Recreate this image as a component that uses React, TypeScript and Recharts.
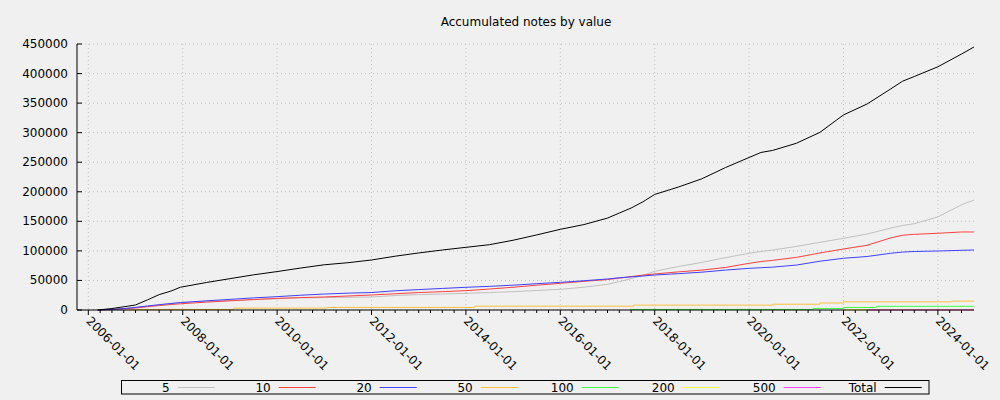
import React from 'react';
import { LineChart, Line, XAxis, YAxis, CartesianGrid, Customized } from 'recharts';

const FONT = "'DejaVu Sans', Verdana, sans-serif";

// ---- data (decimal years) ----
const bigYears = [2006.2, 2006.5, 2006.8, 2007.0, 2007.25, 2007.5, 2007.75, 2007.95, 2008.5, 2009.0, 2009.5, 2010.0, 2010.5, 2011.0, 2011.5, 2012.0, 2012.5, 2013.0, 2013.5, 2014.0, 2014.5, 2015.0, 2015.5, 2016.0, 2016.5, 2017.0, 2017.25, 2017.5, 2017.75, 2018.0, 2018.5, 2019.0, 2019.5, 2020.0, 2020.25, 2020.5, 2021.0, 2021.5, 2022.0, 2022.5, 2023.0, 2023.25, 2023.5, 2024.0, 2024.5, 2024.765];
const totalVals = [0, 2500, 6000, 8500, 17000, 26000, 32000, 38500, 46500, 53000, 59500, 65000, 71000, 76500, 80000, 84600, 91000, 96500, 101500, 106000, 110500, 118000, 127000, 136500, 144500, 155500, 164000, 172500, 183000, 195500, 208000, 222000, 241000, 258000, 266500, 270000, 282000, 300500, 330000, 348500, 374000, 387000, 395000, 411500, 433000, 445000];
const v20Vals = [0, 1000, 2800, 4500, 6800, 9000, 11000, 12500, 15500, 18000, 20500, 22600, 25000, 27000, 28500, 29500, 32500, 34500, 36500, 38400, 40000, 42000, 44500, 46800, 49500, 52500, 54500, 56000, 57500, 59200, 61500, 64000, 67500, 70500, 71500, 72500, 76000, 82500, 87500, 90500, 96000, 98000, 99000, 99800, 101000, 101500];
const v10Vals = [0, 700, 2200, 3500, 5600, 7500, 9300, 10500, 13300, 15500, 17700, 19700, 21000, 22000, 23700, 25400, 27500, 29500, 31000, 32700, 35500, 38500, 42000, 45100, 48500, 51500, 54000, 56500, 59000, 61000, 64500, 67500, 72000, 79000, 82000, 84000, 89000, 96500, 103200, 109500, 122000, 126500, 128000, 129800, 132000, 132000];
const v5Vals = [0, 600, 2000, 3500, 6000, 8500, 11000, 13000, 14500, 16000, 17500, 19000, 20500, 21000, 21500, 22000, 24500, 26000, 27000, 28200, 29500, 31000, 33000, 35000, 38500, 43500, 48000, 53000, 58500, 65500, 73500, 80500, 88500, 96000, 99000, 101500, 107500, 114500, 121300, 128500, 138500, 143000, 146000, 157500, 178000, 186000];

const v50Years = [2006.8, 2007.0, 2009.08, 2011.06, 2014.19, 2017.55, 2020.5, 2021.5, 2022.0, 2024.29, 2024.765];
const v50Vals = [300, 1000, 3200, 4400, 6500, 8200, 9800, 11800, 13800, 15000, 15000];
const v100Years = [2017.48, 2021.36, 2022.0, 2022.7, 2024.765];
const v100Vals = [1000, 2600, 4300, 6200, 6200];
const v200Years = [2022.0, 2024.765];
const v200Vals = [400, 500];
const v500Years = [2022.5, 2024.765];
const v500Vals = [100, 100];

const seriesNames = ['5', '10', '20', '50', '100', '200', '500', 'Total'];
const seriesColors = ['#c0c0c0', '#ff4040', '#4040ff', '#ffc040', '#40ff40', '#ffff40', '#ff40ff', '#000000'];

const yTicks = [0, 50000, 100000, 150000, 200000, 250000, 300000, 350000, 400000, 450000];
const majorYears = [2006, 2008, 2010, 2012, 2014, 2016, 2018, 2020, 2022, 2024];
const xTickLabels = ['2006-01-01', '2008-01-01', '2010-01-01', '2012-01-01', '2014-01-01', '2016-01-01', '2018-01-01', '2020-01-01', '2022-01-01', '2024-01-01'];
const xDomain = [2005.76, 2024.765];
const title = 'Accumulated notes by value';

// quarterly tick positions (axis configuration)
const xTicks: number[] = [];
for (let y = 2006; y <= 2024.5; y += 0.25) xTicks.push(y);

const bigData = bigYears.map((x, i) => ({ x, v5: v5Vals[i], v10: v10Vals[i], v20: v20Vals[i], total: totalVals[i] }));
const mk = (ys: number[], vs: number[]) => ys.map((x, i) => ({ x, v: vs[i] }));
const d50 = mk(v50Years, v50Vals);
const d100 = mk(v100Years, v100Vals);
const d200 = mk(v200Years, v200Vals);
const d500 = mk(v500Years, v500Vals);

const XTick = (props: any) => {
  const { x, y, payload } = props;
  const v = payload.value;
  const idx = majorYears.findIndex((m) => Math.abs(m - v) < 1e-6);
  const major = idx >= 0;
  return (
    <g>
      <line x1={x} x2={x} y1={y} y2={y + (major ? 5 : 3)} stroke="#000" strokeWidth={1} />
      {major && (
        <text
          x={x}
          y={y + 9}
          transform={`rotate(45 ${x} ${y + 9})`}
          textAnchor="start"
          dominantBaseline="central"
          fontSize={12}
          fontFamily={FONT}
          fill="#000"
        >
          {xTickLabels[idx]}
        </text>
      )}
    </g>
  );
};

const YTickLeft = (props: any) => {
  const { x, y, payload } = props;
  return (
    <g>
      <line x1={x} x2={x + 5} y1={y} y2={y} stroke="#000" strokeWidth={1} />
      <text x={x - 9} y={y} textAnchor="end" dominantBaseline="central" fontSize={12} fontFamily={FONT} fill="#000">
        {String(payload.value)}
      </text>
    </g>
  );
};

const YTickRight = (props: any) => {
  const { x, y } = props;
  return <line x1={x} x2={x - 5} y1={y} y2={y} stroke="#000" strokeWidth={1} />;
};

const Extras = () => {
  const startX = 177.7;
  const step = 101;
  return (
    <g>
      <text x={526} y={26} textAnchor="middle" fontSize={12} fontFamily={FONT} fill="#000">
        {title}
      </text>
      <rect x={121.5} y={380.5} width={807.5} height={13.5} fill="none" stroke="#000" strokeWidth={1} />
      {seriesNames.map((n, i) => {
        const lx = startX + step * i;
        return (
          <g key={n}>
            <text x={lx - 8} y={392} textAnchor="end" fontSize={12} fontFamily={FONT} fill="#000">
              {n}
            </text>
            <line x1={lx} x2={lx + 37} y1={387.5} y2={387.5} stroke={seriesColors[i]} strokeWidth={1} />
          </g>
        );
      })}
    </g>
  );
};

export default function App() {
  return (
    <div style={{ position: 'absolute', left: 0, top: 0, width: 1000, height: 400, background: '#f0f0f0', fontFamily: FONT }}>
      <LineChart width={1000} height={400} data={bigData} margin={{ top: 44, right: 26, bottom: 0, left: 0 }}>
        <CartesianGrid
          yAxisId="l"
          stroke="#c0c0c0"
          strokeDasharray="1 3"
          verticalValues={majorYears}
          horizontalValues={yTicks}
        />
        <XAxis
          dataKey="x"
          type="number"
          domain={xDomain}
          allowDataOverflow
          ticks={xTicks}
          interval={0}
          height={90}
          tickSize={0}
          tickMargin={0}
          tickLine={false}
          axisLine={{ stroke: '#000' }}
          tick={<XTick />}
        />
        <YAxis
          yAxisId="l"
          type="number"
          domain={[0, 450000]}
          ticks={yTicks}
          interval={0}
          width={77}
          tickSize={0}
          tickMargin={0}
          tickLine={false}
          axisLine={{ stroke: '#000' }}
          tick={<YTickLeft />}
        />
        <YAxis
          yAxisId="r"
          orientation="right"
          type="number"
          domain={[0, 450000]}
          ticks={yTicks}
          interval={0}
          width={0}
          tickSize={0}
          tickMargin={0}
          tickLine={false}
          axisLine={{ stroke: '#000' }}
          tick={<YTickRight />}
        />
        <Line yAxisId="l" dataKey="v5" type="linear" stroke={seriesColors[0]} strokeWidth={1} dot={false} activeDot={false} isAnimationActive={false} />
        <Line yAxisId="l" dataKey="v10" type="linear" stroke={seriesColors[1]} strokeWidth={1} dot={false} activeDot={false} isAnimationActive={false} />
        <Line yAxisId="l" dataKey="v20" type="linear" stroke={seriesColors[2]} strokeWidth={1} dot={false} activeDot={false} isAnimationActive={false} />
        <Line yAxisId="l" data={d50} dataKey="v" type="stepAfter" stroke={seriesColors[3]} strokeWidth={1} dot={false} activeDot={false} isAnimationActive={false} />
        <Line yAxisId="l" data={d100} dataKey="v" type="stepAfter" stroke={seriesColors[4]} strokeWidth={1} dot={false} activeDot={false} isAnimationActive={false} />
        <Line yAxisId="l" data={d200} dataKey="v" type="stepAfter" stroke={seriesColors[5]} strokeWidth={1} dot={false} activeDot={false} isAnimationActive={false} />
        <Line yAxisId="l" data={d500} dataKey="v" type="stepAfter" stroke={seriesColors[6]} strokeWidth={1} dot={false} activeDot={false} isAnimationActive={false} />
        <Line yAxisId="l" dataKey="total" type="linear" stroke={seriesColors[7]} strokeWidth={1} dot={false} activeDot={false} isAnimationActive={false} />
        <Customized component={<Extras />} />
      </LineChart>
    </div>
  );
}
